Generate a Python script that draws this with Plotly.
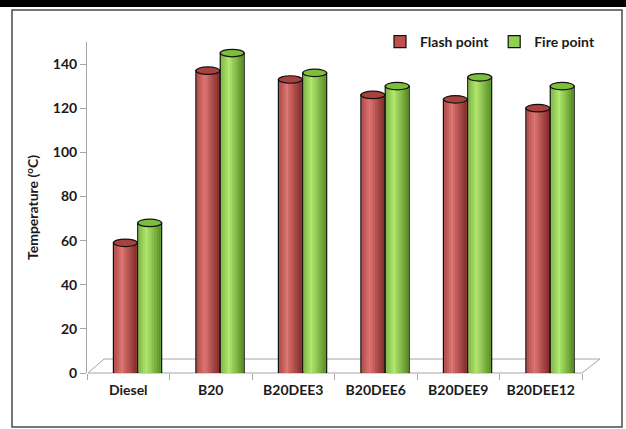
import plotly.graph_objects as go

categories = ["Diesel", "B20", "B20DEE3", "B20DEE6", "B20DEE9", "B20DEE12"]
flash_point = [59, 137, 133, 126, 124, 120]
fire_point = [68, 145, 136, 130, 134, 130]
y_ticks = [0, 20, 40, 60, 80, 100, 120, 140]

FONT = "Lato"
W = 0.29
series = [
    dict(name="Flash point", values=flash_point, offset=-0.18,
         base="#C0504D", light=(222, 118, 114), dark=(130, 44, 42), top="#A8423F"),
    dict(name="Fire point", values=fire_point, offset=0.115,
         base="#92D050", light=(178, 232, 112), dark=(88, 140, 36), top="#7DBE3C"),
]


def mix(a, b, f):
    return "rgb(%d,%d,%d)" % tuple(round(a[i] * (1 - f) + b[i] * f) for i in range(3))


fig = go.Figure()
N = 10
inset = 0.012
for s in series:
    # outline / legend trace
    fig.add_trace(go.Bar(
        x=categories, y=s["values"], name=s["name"], width=W, offset=s["offset"],
        marker=dict(color=s["base"], line=dict(color="#111111", width=1.2)),
        hoverinfo="skip"))
    inner = W - 2 * inset
    sw = inner / N
    for k in range(N):
        t = (k + 0.5) / N
        f = max(0.0, 1 - abs(t - 0.35) / 0.65)
        fig.add_trace(go.Bar(
            x=categories, y=s["values"], width=sw + 0.002,
            offset=s["offset"] + inset + k * sw, showlegend=False,
            marker=dict(color=mix(s["dark"], s["light"], f), line=dict(width=0)),
            hoverinfo="skip"))

shapes = []
# frame and top black band (paper coords)
L, R, T, B = 87, 582, 42, 373
px = lambda v: (v - L) / (R - L)
py = lambda v: (B - v) / (B - T)
shapes.append(dict(type="rect", xref="paper", yref="paper", x0=px(-5), x1=px(631),
                   y0=py(7), y1=py(-5), fillcolor="black", line=dict(width=0), layer="below"))
shapes.append(dict(type="rect", xref="paper", yref="paper", x0=px(12), x1=px(622),
                   y0=py(427), y1=py(10), fillcolor="rgba(0,0,0,0)",
                   line=dict(color="#4A4A4A", width=1.5), layer="below"))
# floor
shapes.append(dict(type="path", xref="paper", yref="paper",
                   path="M %f %f L %f %f L %f %f L %f %f Z" % (
                       px(88), py(373), px(104), py(359), px(600), py(359), px(582), py(373)),
                   fillcolor="white", line=dict(color="#A6A6A6", width=1), layer="below"))
# cylinder tops
for s in series:
    for i, v in enumerate(s["values"]):
        shapes.append(dict(type="circle", xref="x", yref="y",
                           x0=i + s["offset"], x1=i + s["offset"] + W,
                           y0=v - 1.7, y1=v + 1.7,
                           fillcolor=s["top"], line=dict(color="#111111", width=1.2)))

fig.update_layout(
    width=626, height=429, barmode="overlay",
    margin=dict(l=L, r=626 - R, t=T, b=429 - B),
    plot_bgcolor="white", paper_bgcolor="white",
    shapes=shapes,
    showlegend=True,
    legend=dict(orientation="h", x=px(600), xanchor="right", y=py(26), yanchor="top",
                font=dict(family=FONT, size=14, color="#1A1A1A", weight="bold"),
                bgcolor="rgba(0,0,0,0)", itemwidth=30, tracegroupgap=0),
    xaxis=dict(type="category", range=[-0.5, 5.5], showgrid=False, zeroline=False,
               showline=False, ticks="outside", tickson="boundaries", ticklen=6,
               tickcolor="#A6A6A6", tickfont=dict(family=FONT, size=14, color="#1A1A1A", weight="bold"),
               ticklabelstandoff=7),
    yaxis=dict(range=[0, 150], tickvals=y_ticks, showgrid=False, zeroline=False,
               showline=True, linecolor="#A6A6A6", linewidth=1, ticks="outside", ticklen=6,
               tickcolor="#A6A6A6",
               tickfont=dict(family=FONT, size=14, color="#1A1A1A", weight="bold"),
               title=dict(text="Temperature (<sup>o</sup>C)", standoff=10,
                          font=dict(family=FONT, size=14, color="#1A1A1A", weight="bold"))),
)

fig.write_html("out.html")
